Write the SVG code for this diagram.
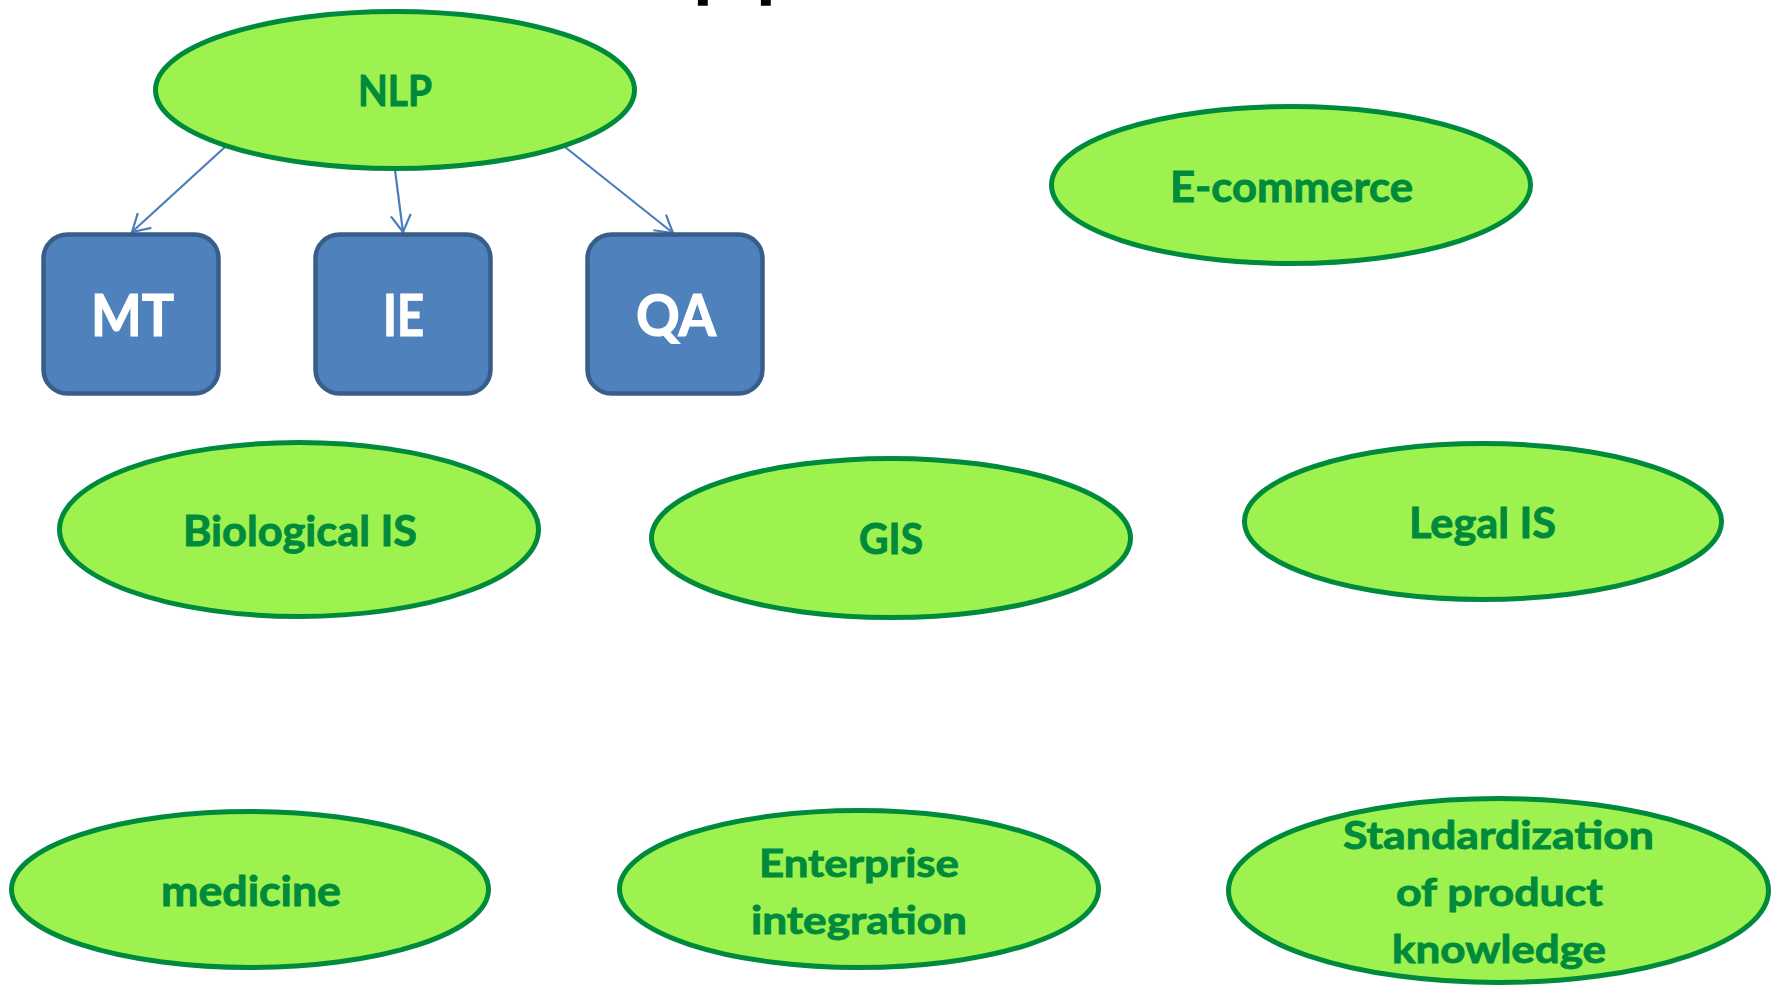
<svg xmlns="http://www.w3.org/2000/svg" width="1777" height="987" viewBox="0 0 1777 987">
  <style>
    .oval { fill: #9df24f; stroke: #008a3c; stroke-width: 5; }
    .box { fill: #4f81bd; stroke: #385d8a; stroke-width: 4.5; }
    .olabel { font-family: Lato, "Open Sans", "Liberation Sans", sans-serif; font-weight: bold; font-size: 42px; fill: #008a3c; stroke: #008a3c; stroke-width: 0.9; text-anchor: middle; }
    .olabel.ml { font-size: 39px; }
    .blabel { font-family: Lato, "Open Sans", "Liberation Sans", sans-serif; font-weight: bold; font-size: 57px; fill: #ffffff; stroke: #ffffff; stroke-width: 1.2; text-anchor: middle; }
    .link { fill: none; stroke: #4a7ebb; stroke-width: 2.2; }
    .title { font-family: Lato, "Liberation Sans", sans-serif; font-weight: bold; font-size: 80px; fill: #000000; }
  </style>
  <defs>
    <marker id="vhead" viewBox="-22 -12 24 24" refX="0" refY="0" markerWidth="24" markerHeight="24" markerUnits="userSpaceOnUse" orient="auto">
      <path d="M-17,-10 L0,0 L-17,10" fill="none" stroke="#4a7ebb" stroke-width="2.2"/>
    </marker>
  </defs>

  <rect x="0" y="0" width="1777" height="987" fill="#ffffff"/>

  <!-- heading, mostly above the top edge -->
  <text class="title" x="693 756" y="-8">pp</text>

  <!-- connectors -->
  <g id="connectors">
    <line class="link" x1="225" y1="147" x2="132" y2="232" marker-end="url(#vhead)"/>
    <line class="link" x1="395" y1="170" x2="403" y2="232" marker-end="url(#vhead)"/>
    <line class="link" x1="565" y1="147" x2="673" y2="233" marker-end="url(#vhead)"/>
  </g>

  <g id="node-nlp">
    <ellipse class="oval" cx="395" cy="90" rx="239.5" ry="78.5"/>
    <text class="olabel" x="395" y="106" textLength="74" lengthAdjust="spacingAndGlyphs">NLP</text>
  </g>

  <g id="node-mt">
    <rect class="box" x="43.5" y="234.5" width="175" height="159" rx="24"/>
    <text class="blabel" x="132.5" y="336" textLength="83" lengthAdjust="spacingAndGlyphs">MT</text>
  </g>

  <g id="node-ie">
    <rect class="box" x="315.5" y="234.5" width="175" height="159" rx="24"/>
    <text class="blabel" x="403.5" y="336" textLength="41" lengthAdjust="spacingAndGlyphs">IE</text>
  </g>

  <g id="node-qa">
    <rect class="box" x="587.5" y="234.5" width="175" height="159" rx="24"/>
    <text class="blabel" x="676" y="336" textLength="80" lengthAdjust="spacingAndGlyphs">QA</text>
  </g>

  <g id="node-ecommerce">
    <ellipse class="oval" cx="1291" cy="185" rx="239.5" ry="78.5"/>
    <text class="olabel" x="1291.5" y="202" textLength="243" lengthAdjust="spacingAndGlyphs">E-commerce</text>
  </g>

  <g id="node-biological">
    <ellipse class="oval" cx="299" cy="529.5" rx="239.5" ry="87"/>
    <text class="olabel" x="300" y="546" textLength="234" lengthAdjust="spacingAndGlyphs">Biological IS</text>
  </g>

  <g id="node-gis">
    <ellipse class="oval" cx="891" cy="538" rx="239.5" ry="79.5"/>
    <text class="olabel" x="891" y="554" textLength="64" lengthAdjust="spacingAndGlyphs">GIS</text>
  </g>

  <g id="node-legal">
    <ellipse class="oval" cx="1483" cy="521.5" rx="238.5" ry="78"/>
    <text class="olabel" x="1482.5" y="538" textLength="147" lengthAdjust="spacingAndGlyphs">Legal IS</text>
  </g>

  <g id="node-medicine">
    <ellipse class="oval" cx="250" cy="889.5" rx="238.5" ry="78"/>
    <text class="olabel" x="251" y="906" textLength="180" lengthAdjust="spacingAndGlyphs">medicine</text>
  </g>

  <g id="node-enterprise">
    <ellipse class="oval" cx="859" cy="889" rx="239.5" ry="78.5"/>
    <text class="olabel ml" x="859" y="877" textLength="200" lengthAdjust="spacingAndGlyphs">Enterprise</text>
    <text class="olabel ml" x="859" y="934" textLength="216" lengthAdjust="spacingAndGlyphs">integration</text>
  </g>

  <g id="node-standardization">
    <ellipse class="oval" cx="1498.5" cy="890.5" rx="270" ry="92"/>
    <text class="olabel ml" x="1498.5" y="849" textLength="311" lengthAdjust="spacingAndGlyphs">Standardization</text>
    <text class="olabel ml" x="1499.5" y="906" textLength="207" lengthAdjust="spacingAndGlyphs">of product</text>
    <text class="olabel ml" x="1499" y="963" textLength="214" lengthAdjust="spacingAndGlyphs">knowledge</text>
  </g>
</svg>
